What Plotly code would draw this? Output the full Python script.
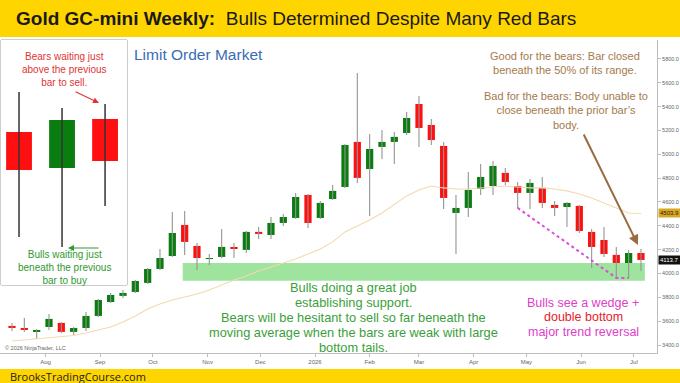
import pandas as pd
import plotly.graph_objects as go

# ---------------- data ----------------
week_start = "2025-07-13"
n_weeks = 52
opens = [3560, 3543, 3510, 3551, 3585, 3510, 3543, 3644, 3761, 3812, 3845, 3921, 4038, 4147, 4407, 4231,
         4122, 4139, 4219, 4198, 4349, 4323, 4424, 4466, 4659, 4466, 4625, 4726, 5104, 4877, 5062, 5104,
         5179, 5422, 5246, 5070, 4508, 4550, 4709, 4734, 4844, 4734, 4676, 4718, 4575, 4558, 4567, 4349,
         4281, 4156, 4088, 4172]
highs = [3585, 3627, 3535, 3661, 3593, 3551, 3677, 3786, 3837, 3862, 3946, 4046, 4206, 4516, 4525, 4256,
         4164, 4374, 4256, 4357, 4390, 4474, 4500, 4676, 4667, 4609, 4743, 5087, 5683, 5171, 5204, 5188,
         5355, 5490, 5297, 5104, 4659, 4852, 4919, 4944, 4885, 4768, 4793, 4810, 4609, 4600, 4575, 4374,
         4390, 4223, 4198, 4206]
lows = [3518, 3510, 3451, 3526, 3501, 3484, 3518, 3635, 3753, 3795, 3837, 3912, 4030, 4139, 4156, 4030,
        4072, 4130, 4130, 4172, 4290, 4290, 4399, 4458, 4382, 4458, 4617, 4718, 4760, 4483, 4961, 4919,
        5162, 5062, 5078, 4541, 4164, 4474, 4659, 4659, 4743, 4550, 4541, 4550, 4483, 4390, 4340, 4046,
        4139, 3963, 3963, 4021]
closes = [3543, 3526, 3526, 3619, 3510, 3543, 3644, 3778, 3820, 3837, 3937, 4038, 4130, 4340, 4265, 4130,
          4130, 4223, 4210, 4349, 4332, 4424, 4474, 4642, 4424, 4592, 4693, 5078, 4802, 5045, 5104, 5146,
          5305, 5221, 5120, 4634, 4550, 4701, 4810, 4902, 4768, 4676, 4760, 4592, 4550, 4592, 4357, 4223,
          4164, 4088, 4172, 4113.7]
moving_avg = [3434, 3442, 3451, 3459, 3468, 3480, 3501, 3526, 3551, 3593, 3644, 3703, 3744, 3778, 3803, 3828,
              3862, 3904, 3946, 3979, 4021, 4055, 4088, 4122, 4164, 4206, 4265, 4349, 4399, 4449, 4508, 4583,
              4651, 4701, 4734, 4718, 4709, 4709, 4718, 4726, 4734, 4726, 4718, 4718, 4709, 4693, 4667, 4634,
              4592, 4550, 4508, 4503.9]
last_price = 4113.7
ma_last = 4503.9
support_low, support_high = 3940, 4088
wedge_idx = [41, 49, 50]
wedge_vals = [4550, 3963, 3963]
month_ticks = ["2025-08-01", "2025-09-01", "2025-10-01", "2025-11-01", "2025-12-01", "2026-01-01",
               "2026-02-01", "2026-03-01", "2026-04-01", "2026-05-01", "2026-06-01", "2026-07-01"]
month_labels = ["Aug", "Sep", "Oct", "Nov", "Dec", "2026", "Feb", "Mar", "Apr", "May", "Jun", "Jul"]
y_ticks = [3400, 3600, 3800, 4000, 4200, 4400, 4600, 4800, 5000, 5200, 5400, 5600, 5800]

# inset illustration candles (abstract price units)
inset_x = [0, 1, 2]
inset_open = [153, 117, 166]
inset_high = [193, 177, 181]
inset_low = [48, 38, 79]
inset_close = [115, 165, 124]

# ---------------- helpers ----------------
W, H = 680, 383
ML, MR, MT, MB = 0, 23, 40, 30
PW, PH = W - ML - MR, H - MT - MB


def px(X):
    return (X - ML) / PW


def py(Y):
    return (MT + PH - Y) / PH


dates = pd.date_range(week_start, periods=n_weeks, freq="7D")
day = pd.Timedelta(days=1)

RED = "#ff1010"
GREEN = "#0a7d10"

fig = go.Figure()

# wicks
wx, wy = [], []
for d, lo, hi in zip(dates, lows, highs):
    wx += [d, d, None]
    wy += [lo, hi, None]
fig.add_trace(go.Scatter(x=wx, y=wy, mode="lines", line=dict(color="#959595", width=1.1),
                         hoverinfo="skip", showlegend=False))

# moving average
fig.add_trace(go.Scatter(x=dates, y=moving_avg, mode="lines", line=dict(color="#f3d9b0", width=1.1),
                         hoverinfo="skip", showlegend=False))

# bodies
body_base = [min(o, c) for o, c in zip(opens, closes)]
body_h = [max(abs(c - o), 6) for o, c in zip(opens, closes)]
body_col = [GREEN if c >= o else RED for o, c in zip(opens, closes)]
fig.add_trace(go.Bar(x=dates, y=body_h, base=body_base, width=4.1 * 86400000,
                     marker=dict(color=body_col, line=dict(width=0)), showlegend=False, hoverinfo="skip"))

# wedge dotted line
fig.add_trace(go.Scatter(x=[dates[i] for i in wedge_idx], y=wedge_vals, mode="lines",
                         line=dict(color="#d84fd8", width=2, dash="dot"), hoverinfo="skip", showlegend=False))

# inset candles
iwx, iwy = [], []
for xx, lo, hi in zip(inset_x, inset_low, inset_high):
    iwx += [xx, xx, None]
    iwy += [lo, hi, None]
fig.add_trace(go.Scatter(x=iwx, y=iwy, mode="lines", line=dict(color="#333333", width=1.5),
                         xaxis="x2", yaxis="y2", hoverinfo="skip", showlegend=False))
fig.add_trace(go.Bar(x=inset_x, y=[abs(c - o) for o, c in zip(inset_open, inset_close)],
                     base=[min(o, c) for o, c in zip(inset_open, inset_close)], width=0.6,
                     marker=dict(color=[GREEN if c >= o else RED for o, c in zip(inset_open, inset_close)],
                                 line=dict(width=0)),
                     xaxis="x2", yaxis="y2", hoverinfo="skip", showlegend=False))

x_left = dates[0] - 0.973 * 7 * day
x_right = dates[0] + 52.3 * 7 * day

shapes = [
    # title bar
    dict(type="rect", xref="paper", yref="paper", x0=px(0), x1=px(W), y0=py(37), y1=py(0),
         fillcolor="#FFD500", line=dict(width=0), layer="above"),
    # bottom bar
    dict(type="rect", xref="paper", yref="paper", x0=px(0), x1=px(W), y0=py(383), y1=py(369),
         fillcolor="#FFD500", line=dict(width=0), layer="above"),
    # support band
    dict(type="rect", xref="x", yref="y", x0=dates[14] - 1.1 * day, x1=dates[51] + 2.2 * day,
         y0=support_low, y1=support_high, fillcolor="#9ee39e", line=dict(width=0), layer="below"),
    # inset box
    dict(type="rect", xref="paper", yref="paper", x0=px(1), x1=px(127), y0=py(285), y1=py(40),
         fillcolor="white", line=dict(color="#9a9a9a", width=1), layer="below"),
]

ann = []


def text(x, y, s, size, color, xanchor="center", yanchor="middle", family="Liberation Sans, Arial"):
    ann.append(dict(x=px(x), y=py(y), xref="paper", yref="paper", text=s, showarrow=False,
                    xanchor=xanchor, yanchor=yanchor, align="center",
                    font=dict(size=size, color=color, family=family)))


text(14, 19, "<b>Gold GC-mini Weekly:</b>&nbsp; Bulls Determined Despite Many Red Bars", 19, "#1a1a1a",
     xanchor="left")
text(8, 376, "BrooksTradingCourse.com", 11, "#222222", xanchor="left", family="Open Sans")
text(132, 55, "Limit Order Market", 15.5, "#3a6db5", xanchor="left")
text(565, 63, "Good for the bears: Bar closed<br>beneath the 50% of its range.", 11, "#a47a4c")
text(566, 110, "Bad for the bears: Body unable to<br>close beneath the prior bar’s<br>body.", 11, "#a47a4c")
for yy, s in zip([287, 302, 317, 332, 347],
                 ["Bulls doing a great job", "establishing support.",
                  "Bears will be hesitant to sell so far beneath the",
                  "moving average when the bars are weak with large", "bottom tails."]):
    text(353, yy, s, 12.8, "#3aa03a")
text(583, 303, "Bulls see a wedge +", 12.5, "#e040c8")
text(583, 317, "double bottom", 12.5, "#e8202a")
text(583, 332, "major trend reversal", 12.5, "#e040c8")
text(64, 69, "Bears waiting just<br>above the previous<br>bar to sell.", 10, "#e03535")
text(64, 267, "Bulls waiting just<br>beneath the previous<br>bar to buy", 10, "#2f9a2f")
text(3, 348, "© 2026 NinjaTrader, LLC", 5.5, "#666666", xanchor="left")

# arrows
for hx, hy, tx, ty, col, w in [(99, 103, 74, 91, "#e03535", 1.2), (68, 248, 100, 248, "#2f9a2f", 1.2),
                               (638, 245, 583, 133, "#9a6b3f", 2)]:
    ann.append(dict(x=px(hx), y=py(hy), xref="paper", yref="paper", ax=tx - hx, ay=ty - hy, text="",
                    showarrow=True, arrowhead=2, arrowsize=1, arrowwidth=w, arrowcolor=col))

# price boxes
ann.append(dict(x=1, y=ma_last, xref="paper", yref="y", text=f"{ma_last:.1f}", showarrow=False,
                xanchor="left", xshift=1, bgcolor="#d8a820", borderpad=1,
                font=dict(size=6, color="#222", family="Liberation Sans, Arial")))
ann.append(dict(x=1, y=last_price, xref="paper", yref="y", text=f"{last_price:.1f}", showarrow=False,
                xanchor="left", xshift=1, bgcolor="#111111", borderpad=1,
                font=dict(size=6, color="white", family="Liberation Sans, Arial")))

fig.update_layout(
    width=W, height=H, margin=dict(l=ML, r=MR, t=MT, b=MB),
    paper_bgcolor="white", plot_bgcolor="white", showlegend=False, barmode="overlay",
    shapes=shapes, annotations=ann,
    xaxis=dict(range=[x_left, x_right], tickvals=month_ticks, ticktext=month_labels, showgrid=False,
               zeroline=False, showline=True, linecolor="#bdbdbd", linewidth=1, ticks="outside",
               ticklen=3, tickcolor="#bdbdbd", tickfont=dict(size=6, color="#666", family="Liberation Sans, Arial")),
    yaxis=dict(range=[3333, 5959], side="right", tickvals=y_ticks, tickformat=".1f", showgrid=False,
               zeroline=False, showline=True, linecolor="#bdbdbd", linewidth=1, ticks="outside",
               ticklen=3, tickcolor="#bdbdbd", tickfont=dict(size=5.5, color="#666", family="Liberation Sans, Arial")),
    xaxis2=dict(domain=[px(1), px(127)], range=[-0.419, 2.51], visible=False, fixedrange=True),
    yaxis2=dict(domain=[py(285), py(40)], range=[0, 245], visible=False, fixedrange=True, anchor="x2"),
)
fig.update_layout(xaxis2_anchor="y2")

fig.write_html("out.html")
